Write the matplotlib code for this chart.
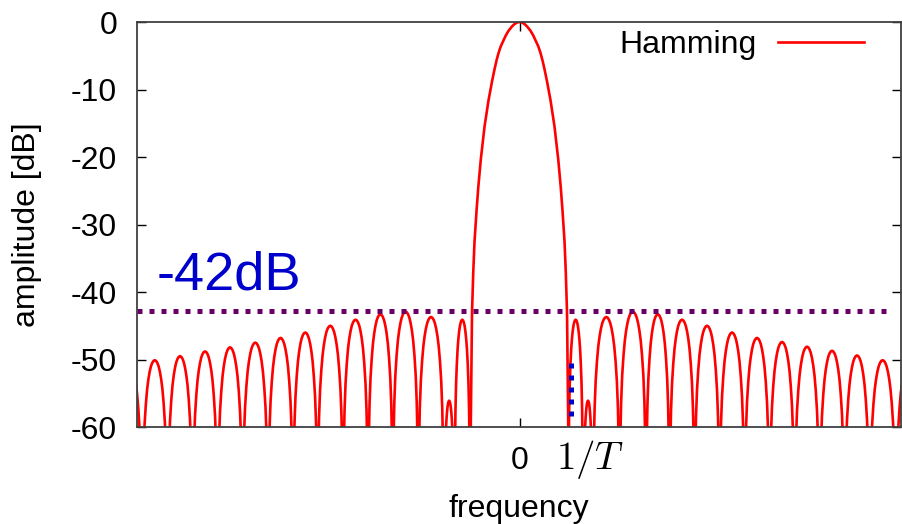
import numpy as np
import matplotlib
matplotlib.use('Agg')
import matplotlib.pyplot as plt

plt.rcParams['font.family'] = ['Liberation Sans', 'DejaVu Sans']
plt.rcParams['mathtext.fontset'] = 'cm'
plt.rcParams['axes.unicode_minus'] = False

# frequency axis in bins (1/T units scaled), amplitude in dB
# main lobe, positive side (mirrored for negative side)
main_offset = [0.0, 0.1, 0.2, 0.3, 0.44, 0.55, 0.65, 0.75, 0.84, 0.92, 1.0,
               1.1, 1.24, 1.4, 1.55, 1.65, 1.72, 1.8, 1.85, 1.9, 1.95]
main_db = [0.0, -0.07, -0.3, -0.65, -1.3, -2.0, -2.8, -3.6, -4.6, -5.7, -7.0,
           -8.8, -11.6, -15.5, -20.4, -24.5, -28.0, -32.5, -37.0, -43.0, -60.0]

# side lobes: null positions and peak levels
right_nulls = [1.95, 2.54, 2.94, 4.0, 5.06, 6.0, 7.0, 8.0, 9.0, 10.0, 11.0,
               12.0, 13.0, 14.0, 15.05, 16.05]
right_peaks = [-44.1, -56.1, -43.7, -42.9, -43.3, -44.1, -45.0, -46.0, -46.8,
               -47.4, -48.1, -48.7, -49.4, -50.1, -50.7]
left_nulls = [-1.98, -2.6, -3.03, -4.05, -5.07, -6.06, -7.06, -8.08, -9.06,
              -10.06, -11.08, -12.08, -13.08, -14.08, -15.1, -16.1]
left_peaks = [-44.1, -56.1, -43.7, -42.9, -43.3, -44.1, -45.0, -46.0, -46.8,
              -47.5, -48.2, -48.8, -49.5, -50.1, -50.7]

# shape of one side lobe (half), fraction of lobe width vs dB below peak
lobe_u = [0.0, 0.03, 0.06, 0.1, 0.15, 0.2, 0.25, 0.3, 0.35, 0.4, 0.45, 0.5]
lobe_drop = [-40.0, -19.0, -13.5, -9.5, -6.5, -4.3, -2.8, -1.7, -0.9, -0.4,
             -0.1, 0.0]

level_db = -42.8      # dotted reference line
marker_x = 2.06       # short blue marker near 1/T
marker_db = [-50.5, -58.4]


def side_lobes(nulls, peaks):
    u = np.array(lobe_u)
    d = np.array(lobe_drop)
    xs, ys = [], []
    for a, b, p in zip(nulls[:-1], nulls[1:], peaks):
        xs.extend(a + u * (b - a))
        ys.extend(p + d)
        xs.extend((b - u * (b - a))[::-1][1:])
        ys.extend((p + d)[::-1][1:])
    return np.array(xs), np.array(ys)


fig = plt.figure(figsize=(9.03, 5.24), dpi=100)
ax = fig.add_axes([0.1512, 0.1851, 0.8466, 0.7729])

off = np.array(main_offset)
mdb = np.array(main_db)
main_x = np.concatenate([-off[::-1], off[1:]])
main_y = np.concatenate([mdb[::-1], mdb[1:]])

red = '#ff0000'
ax.plot(main_x, main_y, color=red, lw=1.9, label='Hamming')
lx, ly = side_lobes(left_nulls, left_peaks)
rx, ry = side_lobes(right_nulls, right_peaks)
ax.plot(lx, ly, color=red, lw=1.9)
ax.plot(rx, ry, color=red, lw=1.9)

ax.plot([-15.3, 14.8], [level_db, level_db], color='#680068', lw=3.6,
        dashes=(1, 1.4), solid_capstyle='butt', dash_capstyle='butt')
ax.plot([marker_x, marker_x], marker_db, color='#0000cc', lw=3.6,
        dashes=(1, 1.4), dash_capstyle='butt')

ax.text(-14.5, -39.7, '-42dB', color='#0000cc', fontsize=39,
        ha='left', va='baseline')

ax.set_xlim(-15.32, 15.26)
ax.set_ylim(-60, 0)
ax.set_xticks([0])
ax.set_xticklabels(['0'])
yt = [0, -10, -20, -30, -40, -50, -60]
ax.set_yticks(yt)
ax.set_yticklabels([str(v) for v in yt])
ax.tick_params(direction='in', length=6.5, width=1.0, top=True, right=True,
               labelsize=23, pad=14)
for s in ax.spines.values():
    s.set_color('#404040')
    s.set_linewidth(1.3)

ax.text(2.82, -0.081, r'$1/T$', transform=ax.get_xaxis_transform(),
        fontsize=28, ha='center', va='center')

ax.set_ylabel('amplitude [dB]', fontsize=23)
ax.yaxis.set_label_coords(-0.1235, 0.5)
ax.set_xlabel('frequency', fontsize=23)
ax.xaxis.set_label_coords(0.5, -0.165)

ax.legend(loc='center right', bbox_to_anchor=(864 / 903, 1 - 45 / 524),
          bbox_transform=fig.transFigure, frameon=False, markerfirst=False,
          fontsize=23, handlelength=2.7, handletextpad=0.66, borderpad=0,
          borderaxespad=0)

fig.savefig('out.png', dpi=100)
